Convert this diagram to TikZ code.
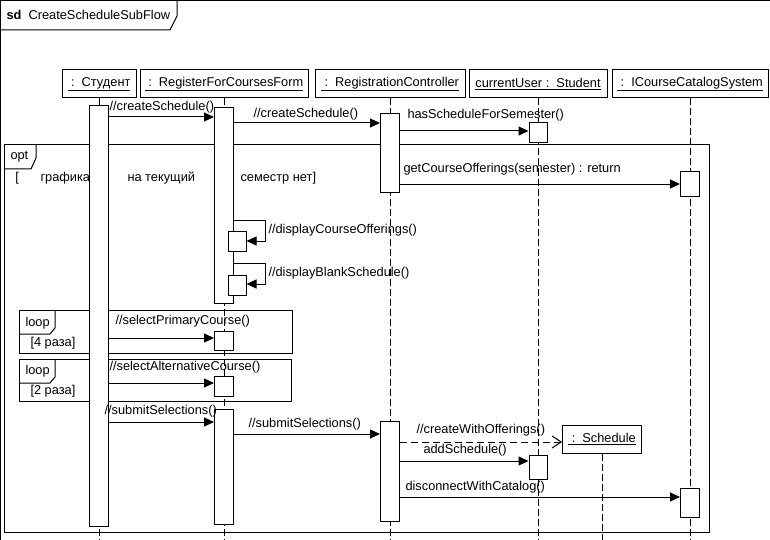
\documentclass[tikz,border=0pt]{standalone}
\usepackage{fontspec}
\setmainfont{Liberation Sans}
\usetikzlibrary{arrows.meta}

\newcommand{\ObjName}[1]{\underline{\hbox{#1}}}

\begin{document}
\begin{tikzpicture}
	[x=1pt, y=-1pt, line width=1pt,
	 font=\fontsize{12.8}{14}\selectfont,
	 Head/.style={draw, fill=white, minimum height=28pt, inner sep=0pt},		%Options for object heads
	 Act/.style={draw, fill=white, minimum width=19pt, inner sep=0pt, anchor=north},	%Activation bar
	 Life/.style={dash pattern=on 7pt off 3pt},						%Lifeline
	 Msg/.style={-{Triangle[length=10pt,width=9pt]}},
	 CreateMsg/.style={dash pattern=on 7pt off 4pt, -{Straight Barb[length=9pt,width=12pt]}},
	 Lbl/.style={anchor=west, inner sep=0pt},
	 Frame/.style={draw}
	]
	
	\def\Bottom{540};		%lower end of the lifelines
	
	\useasboundingbox (0,0) rectangle (770,540);
	
	%sd frame
	\draw (0.5,540) -- (0.5,0.5) -- (770,0.5);
	\draw (0.5,30) -- (170,30) -- (177,16) -- (177,0.5);
	\node[Lbl] (sdname) at (6,15) {\textbf{sd}\ \ CreateScheduleSubFlow};
	
	%combined fragments
	\draw (4,145) rectangle (709,532);
	\draw (4,169) -- (31,169) -- (36,158) -- (36,145);
	\node[Lbl] (optname) at (10,157) {opt};
	\node[Lbl] (g1) at (15,178) {[};
	\node[Lbl] (g2) at (40,178) {графика};
	\node[Lbl] (g3) at (127,178) {на текущий};
	\node[Lbl] (g4) at (240,178) {семестр нет]};
	
	\draw (19,310) rectangle (292,353);
	\draw (19,334) -- (50,334) -- (55,328) -- (55,310);
	\node[Lbl] (loopa) at (25,323) {loop};
	\node[Lbl] (guarda) at (30,343) {[4 раза]};
	
	\draw (19,359) rectangle (291,401);
	\draw (19,383) -- (50,383) -- (55,377) -- (55,359);
	\node[Lbl] (loopb) at (25,371) {loop};
	\node[Lbl] (guardb) at (30,391) {[2 раза]};
	
	%object heads
	\node[Head, minimum width=74pt] (stud) at (99,84) {\ObjName{\ :\ \ Студент}};
	\node[Head, minimum width=168pt] (form) at (224,84) {\ObjName{\ :\ \ RegisterForCoursesForm}};
	\node[Head, minimum width=150pt] (ctrl) at (390,84) {\ObjName{\ :\ \ RegistrationController}};
	\node[Head, minimum width=138pt] (user) at (538,84) {\ObjName{currentUser\ :\ \ Student}};
	\node[Head, minimum width=156pt] (cat) at (690,84) {\ObjName{\ :\ \ ICourseCatalogSystem}};
	\node[Head, minimum width=79pt] (sched) at (602,439) {\ObjName{\ :\ \ Schedule}};
	
	%lifelines
	\foreach \o in {stud, form, ctrl, user, cat, sched}
		\draw[Life] (\o.south) -- (\o.south |- 0,\Bottom);
	
	%activations
	\node[Act, minimum height=421pt] (studA) at (99,105) {};
	\node[Act, minimum height=196pt] (formA) at (224,107) {};
	\node[Act, minimum height=20pt, minimum width=18pt] (formS) at (237,231) {};
	\node[Act, minimum height=20pt, minimum width=18pt] (formT) at (237,275) {};
	\node[Act, minimum height=19pt] (formP) at (224,331) {};
	\node[Act, minimum height=20pt] (formQ) at (224,376) {};
	\node[Act, minimum height=115pt] (formB) at (224,409) {};
	\node[Act, minimum height=79pt] (ctrlA) at (390,113) {};
	\node[Act, minimum height=100pt] (ctrlB) at (390,421) {};
	\node[Act, minimum height=20pt, minimum width=18pt] (userA) at (538,122) {};
	\node[Act, minimum height=24pt, minimum width=18pt] (userB) at (538,455) {};
	\node[Act, minimum height=25pt] (catA) at (690,171) {};
	\node[Act, minimum height=29pt] (catB) at (690,488) {};
	
	%message levels
	\coordinate (m1) at (0,117);
	\coordinate (m2) at (0,123);
	\coordinate (m3) at (0,131);
	\coordinate (m4) at (0,184);
	\coordinate (m5) at (0,220);
	\coordinate (m6) at (0,241);
	\coordinate (m7) at (0,263);
	\coordinate (m8) at (0,284);
	\coordinate (m9) at (0,338);
	\coordinate (m10) at (0,383);
	\coordinate (m11) at (0,422);
	\coordinate (m12) at (0,434);
	\coordinate (m13) at (0,442);
	\coordinate (m14) at (0,461);
	\coordinate (m15) at (0,497);
	
	%messages
	\draw[Msg] (studA.east |- m1) -- (formA.west |- m1);
	\draw[Msg] (formA.east |- m2) -- (ctrlA.west |- m2);
	\draw[Msg] (ctrlA.east |- m3) -- (userA.west |- m3);
	\draw[Msg] (ctrlA.east |- m4) -- (catA.west |- m4);
	\draw[Msg] (formA.east |- m5) -- ++(31,0) |- (formS.east |- m6);		%self call
	\draw[Msg] (formA.east |- m7) -- ++(31,0) |- (formT.east |- m8);		%self call
	\draw[Msg] (studA.east |- m9) -- (formP.west |- m9);
	\draw[Msg] (studA.east |- m10) -- (formQ.west |- m10);
	\draw[Msg] (studA.east |- m11) -- (formB.west |- m11);
	\draw[Msg] (formB.east |- m12) -- (ctrlB.west |- m12);
	\draw[CreateMsg] (ctrlB.east |- m13) -- (sched.west |- m13);
	\draw[Msg] (ctrlB.east |- m14) -- (userB.west |- m14);
	\draw[Msg] (ctrlB.east |- m15) -- (catB.west |- m15);
	
	%message labels
	\node[Lbl] at (109,107) {//createSchedule()};
	\node[Lbl] at (253,114) {//createSchedule()};
	\node[Lbl] at (407,115) {hasScheduleForSemester()};
	\node[Lbl] at (403,169) {getCourseOfferings(semester) : return};
	\node[Lbl] at (268,230) {//displayCourseOfferings()};
	\node[Lbl] at (268,273) {//displayBlankSchedule()};
	\node[Lbl] at (115,321) {//selectPrimaryCourse()};
	\node[Lbl] at (109,367) {//selectAlternativeCourse()};
	\node[Lbl] at (104,411) {//submitSelections()};
	\node[Lbl] at (248,424) {//submitSelections()};
	\node[Lbl] at (416,430) {//createWithOfferings()};
	\node[Lbl] at (423,450) {addSchedule()};
	\node[Lbl] at (405,487) {disconnectWithCatalog()};
	
\end{tikzpicture}
\end{document}
